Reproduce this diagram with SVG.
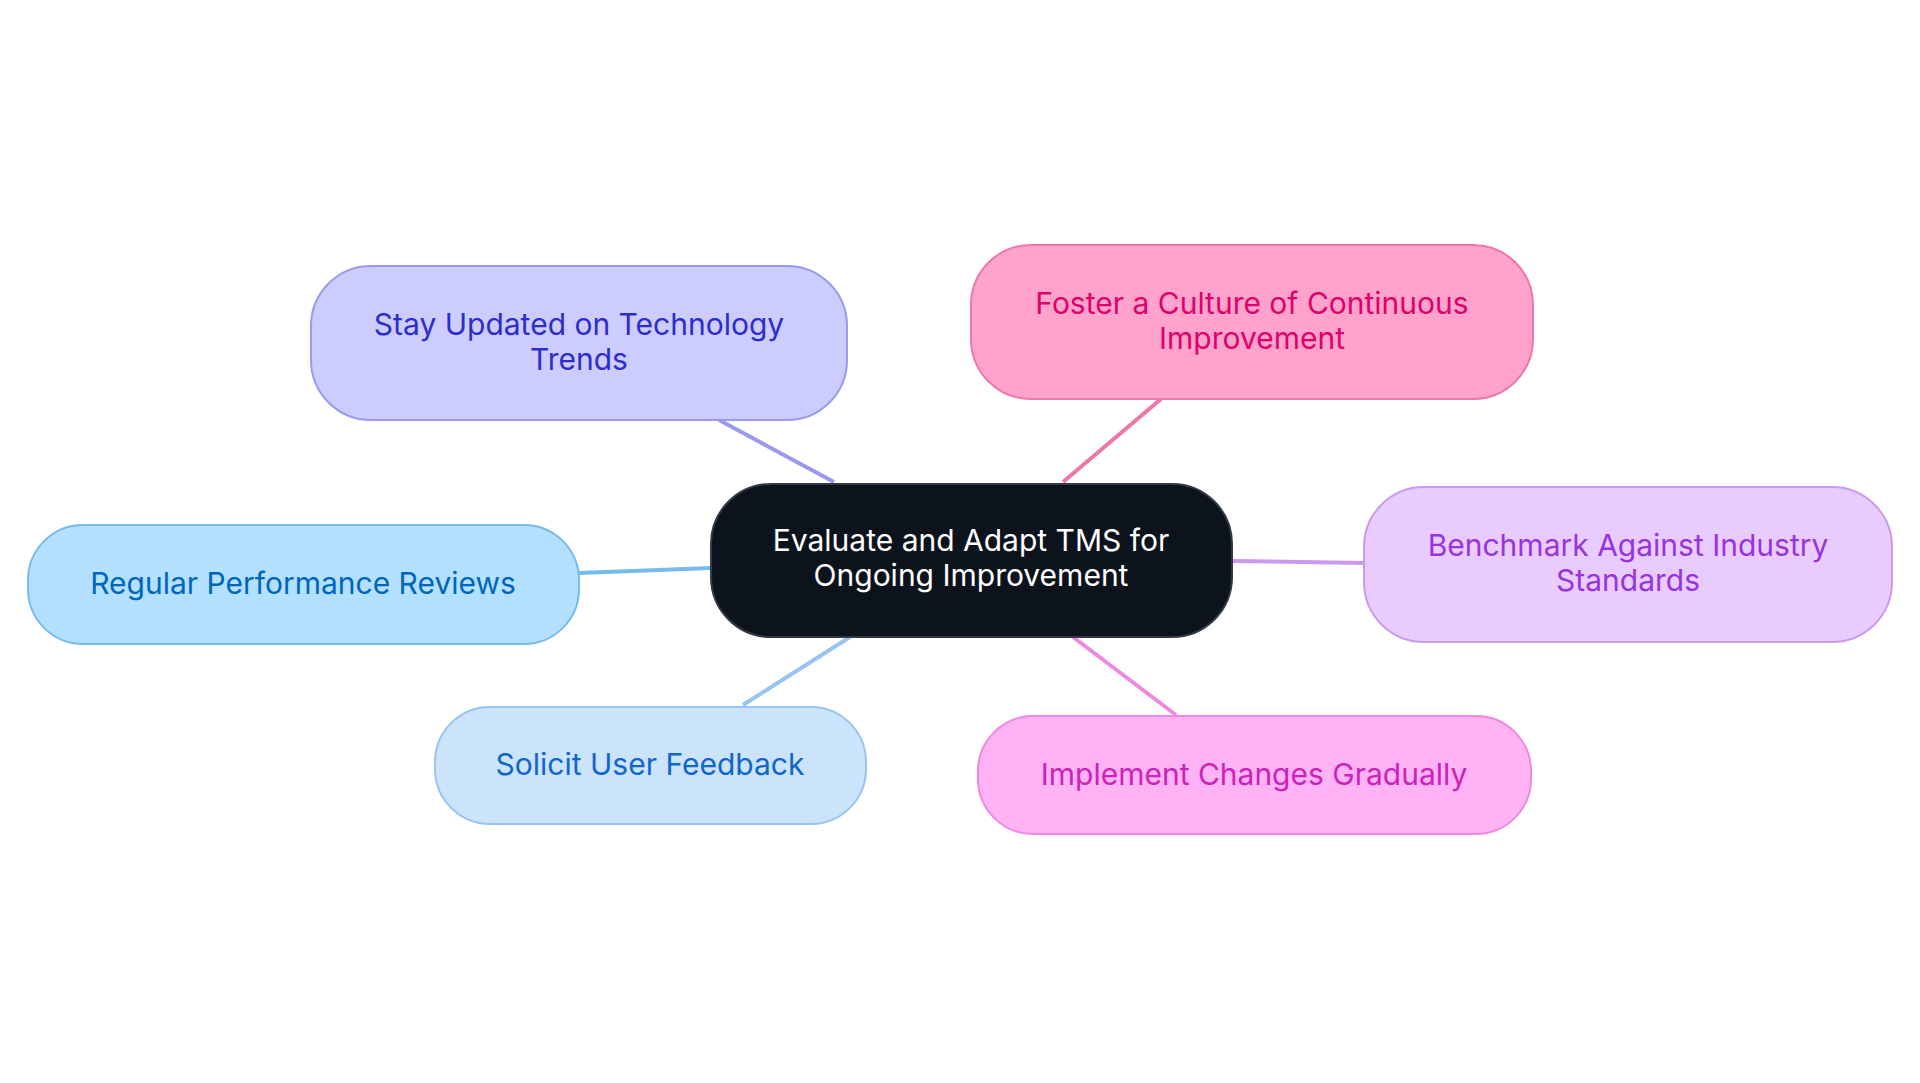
<svg xmlns="http://www.w3.org/2000/svg" width="1920" height="1083" viewBox="0 0 1920 1083">
<style>
text{font-family:Inter,"Noto Sans",sans-serif;font-size:30px;text-anchor:middle;dominant-baseline:central}
.n rect{stroke-width:2}
.e line{stroke-width:4;fill:none}
</style>
<rect width="1920" height="1083" fill="#fff"/>
<g id="connectors" class="e">
<line x1="719" y1="420" x2="834" y2="482" stroke="#9999ee"/>
<line x1="1161" y1="399" x2="1063" y2="482" stroke="#ee77aa"/>
<line x1="1232" y1="561" x2="1364" y2="563" stroke="#cc99ee"/>
<line x1="579" y1="573" x2="711" y2="568" stroke="#77bbee"/>
<line x1="743" y1="705" x2="850" y2="637" stroke="#99c4f0"/>
<line x1="1176" y1="715" x2="1073" y2="637" stroke="#ee88e0"/>
</g>
<g id="center" class="n"><rect x="711" y="484" width="521" height="153" rx="60" fill="#0d131c" stroke="#333a44"/>
<text fill="#fff"><tspan x="971" y="540">Evaluate and Adapt TMS for</tspan><tspan x="971" y="575">Ongoing Improvement</tspan></text></g>
<g id="stay" class="n"><rect x="311" y="266" width="536" height="154" rx="60" fill="#ccccff" stroke="#9999ee"/>
<text fill="#2d2dcc"><tspan x="579" y="324">Stay Updated on Technology</tspan><tspan x="579" y="359">Trends</tspan></text></g>
<g id="foster" class="n"><rect x="971" y="245" width="562" height="154" rx="60" fill="#ffa3cc" stroke="#ee77aa"/>
<text fill="#e0006b"><tspan x="1252" y="303">Foster a Culture of Continuous</tspan><tspan x="1252" y="338">Improvement</tspan></text></g>
<g id="benchmark" class="n"><rect x="1364" y="487" width="528" height="155" rx="60" fill="#e8ccff" stroke="#cc99ee"/>
<text fill="#9933dd"><tspan x="1628" y="545">Benchmark Against Industry</tspan><tspan x="1628" y="580">Standards</tspan></text></g>
<g id="regular" class="n"><rect x="28" y="525" width="551" height="119" rx="55" fill="#b3e0ff" stroke="#77bbee"/>
<text fill="#0066bb" x="303" y="583">Regular Performance Reviews</text></g>
<g id="solicit" class="n"><rect x="435" y="707" width="431" height="117" rx="55" fill="#cce3fc" stroke="#99c4f0"/>
<text fill="#1166cc" x="650" y="764">Solicit User Feedback</text></g>
<g id="implement" class="n"><rect x="978" y="716" width="553" height="118" rx="55" fill="#ffb3f5" stroke="#ee88e0"/>
<text fill="#cc22bb" x="1254" y="774">Implement Changes Gradually</text></g>
</svg>
